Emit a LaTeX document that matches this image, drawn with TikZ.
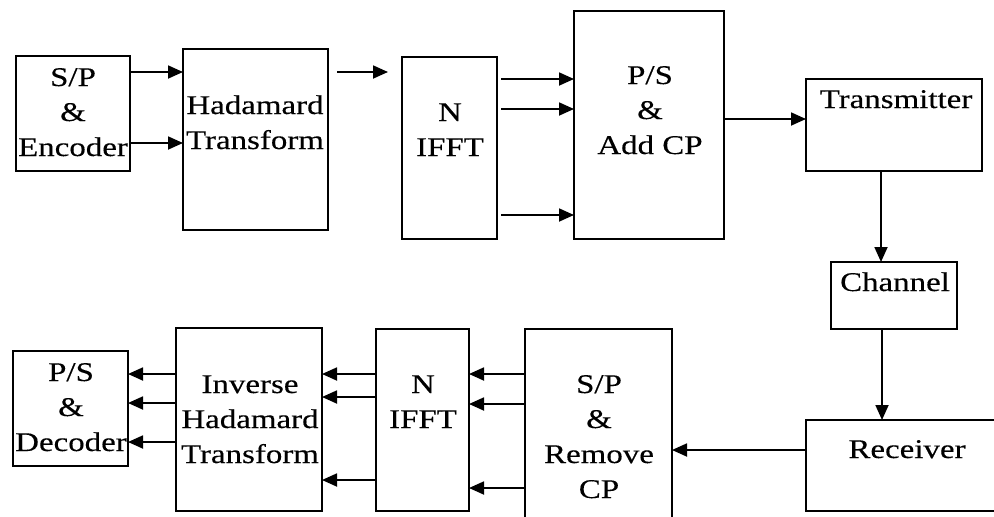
\documentclass[tikz,border=0pt]{standalone}
\usepackage{fontspec}
\setmainfont[FakeStretch=1.22,FakeBold=0.3]{Liberation Serif}
\usetikzlibrary{arrows.meta}
\begin{document}
\begin{tikzpicture}[x=1pt,y=-1pt,
  box/.style={draw, line width=1.8pt, inner sep=0pt, outer sep=0pt},
  lbl/.style={anchor=base, inner sep=0pt, font=\fontsize{27}{35}\selectfont},
  arr/.style={line width=1.8pt, -{Triangle[length=15pt,width=13pt]}}]
\useasboundingbox (0,0) rectangle (994,517);
\clip (0,0) rectangle (994,517);

% ---- transmitter chain (top row) ----
\node[box, minimum width=114pt, minimum height=115pt] (spenc) at (73,113.5) {};
\node[box, minimum width=145pt, minimum height=181pt] (had)   at (255.5,139.5) {};
\node[box, minimum width=95pt,  minimum height=182pt] (ifft)  at (449.5,148) {};
\node[box, minimum width=150pt, minimum height=228pt] (ps)    at (649,125) {};
\node[box, minimum width=176pt, minimum height=92pt]  (tx)    at (894,125) {};
\node[box, minimum width=126pt, minimum height=67pt]  (ch)    at (894,295.5) {};

% ---- receiver chain (bottom row) ----
\node[box, minimum width=194pt, minimum height=91pt]  (rx)    at (903,465.5) {};
\node[box, minimum width=147pt, minimum height=193pt] (sprm)  at (598.5,425.5) {};
\node[box, minimum width=93pt,  minimum height=182pt] (ifftb) at (422.5,420) {};
\node[box, minimum width=146pt, minimum height=183pt] (ihad)  at (249,419.5) {};
\node[box, minimum width=115pt, minimum height=115pt] (psdec) at (70.5,408.5) {};

% ---- labels ----
\node[lbl] (t1a) at (73,86)  {S/P};
\node[lbl] (t1b) at (73,121) {\&};
\node[lbl] (t1c) at (73,156) {Encoder};
\node[lbl] (t2a) at (255,114) {Hadamard};
\node[lbl] (t2b) at (255,149) {Transform};
\node[lbl] (t3a) at (450,121) {N};
\node[lbl] (t3b) at (450,156) {IFFT};
\node[lbl] (t4a) at (650,84)  {P/S};
\node[lbl] (t4b) at (650,119) {\&};
\node[lbl] (t4c) at (650,154) {Add CP};
\node[lbl] (t5)  at (896,108) {Transmitter};
\node[lbl] (t6)  at (895,291) {Channel};
\node[lbl] (t7)  at (907,458) {Receiver};
\node[lbl] (t8a) at (599,393) {S/P};
\node[lbl] (t8b) at (599,428) {\&};
\node[lbl] (t8c) at (599,463) {Remove};
\node[lbl] (t8d) at (599,498) {CP};
\node[lbl] (t9a) at (423,393) {N};
\node[lbl] (t9b) at (423,428) {IFFT};
\node[lbl] (tAa) at (250,393) {Inverse};
\node[lbl] (tAb) at (250,428) {Hadamard};
\node[lbl] (tAc) at (250,463) {Transform};
\node[lbl] (tBa) at (71,381) {P/S};
\node[lbl] (tBb) at (71,416) {\&};
\node[lbl] (tBc) at (71,451) {Decoder};

% ---- connectors, top row ----
\draw[arr] (spenc.east |- 0,72)  -- (had.west |- 0,72);
\draw[arr] (spenc.east |- 0,143) -- (had.west |- 0,143);
\coordinate (fa) at (337,72);
\coordinate (fb) at (388,72);
\draw[arr] (fa) -- (fb);
\draw[arr] ([xshift=4pt]ifft.east |- 0,79)  -- (ps.west |- 0,79);
\draw[arr] ([xshift=4pt]ifft.east |- 0,109) -- (ps.west |- 0,109);
\draw[arr] ([xshift=4pt]ifft.east |- 0,215) -- (ps.west |- 0,215);
\draw[arr] (ps.east |- 0,119) -- (tx.west |- 0,119);
\draw[arr] (tx.south -| 881,0) -- (ch.north -| 881,0);
\draw[arr] (ch.south -| 882,0) -- (rx.north -| 882,0);

% ---- connectors, bottom row ----
\draw[arr] (rx.west |- 0,450) -- (sprm.east |- 0,450);
\draw[arr] (sprm.west |- 0,374) -- (ifftb.east |- 0,374);
\draw[arr] (sprm.west |- 0,404) -- (ifftb.east |- 0,404);
\draw[arr] (sprm.west |- 0,488) -- (ifftb.east |- 0,488);
\draw[arr] (ifftb.west |- 0,374) -- (ihad.east |- 0,374);
\draw[arr] (ifftb.west |- 0,397) -- (ihad.east |- 0,397);
\draw[arr] (ifftb.west |- 0,480) -- (ihad.east |- 0,480);
\draw[arr] (ihad.west |- 0,374) -- (psdec.east |- 0,374);
\draw[arr] (ihad.west |- 0,403) -- (psdec.east |- 0,403);
\draw[arr] (ihad.west |- 0,442) -- (psdec.east |- 0,442);
\end{tikzpicture}
\end{document}
